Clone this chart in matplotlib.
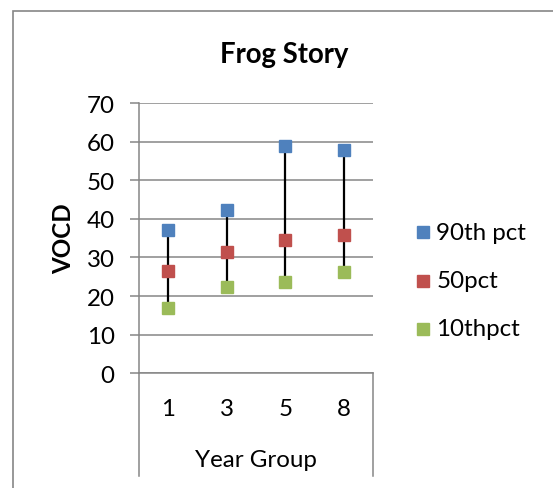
import matplotlib
matplotlib.use("Agg")
import matplotlib.pyplot as plt
from matplotlib.patches import Rectangle
from matplotlib.lines import Line2D

categories = ["1", "3", "5", "8"]
p90 = [37.0, 42.4, 58.9, 57.7]
p50 = [26.6, 31.3, 34.5, 35.8]
p10 = [16.8, 22.3, 23.6, 26.2]
series_names = ["90th pct", "50pct", "10thpct"]
colors = ["#4F81BD", "#C0504D", "#9BBB59"]
yticks = [0, 10, 20, 30, 40, 50, 60, 70]

plt.rcParams['font.family'] = ['Lato', 'DejaVu Sans']
W, H = 553, 489
fig = plt.figure(figsize=(W / 100, H / 100), dpi=100)

def fx(x): return x / W
def fy(y): return 1 - y / H

gray = "#868686"
FS = 17.4
# outer chart frame
fig.patches.append(Rectangle((fx(13), fy(600)), fx(700), fy(12) - fy(600),
                             transform=fig.transFigure, fill=False,
                             edgecolor=gray, linewidth=1.2))

left, right, top, bottom = 139.3, 372.7, 104, 374.3
ax = fig.add_axes([fx(left), fy(bottom), fx(right - left), fy(top) - fy(bottom)])
x = list(range(len(categories)))
ax.set_xlim(-0.5, len(categories) - 0.5)
ax.set_ylim(0, 70)
ax.set_yticks(yticks)
ax.yaxis.grid(True, color=gray, linewidth=1.1)
ax.set_axisbelow(True)
for s in ["top", "right"]:
    ax.spines[s].set_visible(False)
for s in ["left", "bottom"]:
    ax.spines[s].set_color(gray)
    ax.spines[s].set_linewidth(1.1)
ax.tick_params(axis="y", length=6.2, width=1.1, color=gray, pad=11.5,
               labelsize=FS, labelcolor="black")
ax.set_xticks([])
ax.tick_params(axis="x", length=0)

# high-low lines
ax.vlines(x, p10, p90, color="black", linewidth=1.6, zorder=2)
for vals, c, name in zip([p90, p50, p10], colors, series_names):
    ax.plot(x, vals, linestyle="none", marker="s", markersize=8.4,
            color=c, markeredgecolor=c, label=name, zorder=3)

# category labels
xt = ax.get_xaxis_transform()
for xi, lab in zip(x, categories):
    ax.text(xi, -(410 - bottom) / (bottom - top), lab, transform=xt,
            ha="center", va="center", fontsize=FS)
ax.text(0.5, -(461 - bottom) / (bottom - top), "Year Group", transform=ax.transAxes,
        ha="center", va="center", fontsize=FS)
# multi-level category boundary lines
depth = -(477 - bottom) / (bottom - top)
for xa in [0, 1]:
    ax.add_line(Line2D([xa, xa], [0, depth], transform=ax.transAxes,
                       color=gray, linewidth=1.1, clip_on=False))

fig.text(fx(64), fy(239), "VOCD", rotation=90, ha="center", va="center",
         fontsize=FS, fontweight="bold")
fig.text(fx(284), fy(55), "Frog Story", ha="center", va="center",
         fontsize=19.8, fontweight="bold")

# legend
leg_y = [233, 282, 330]
for name, c, yy in zip(series_names, colors, leg_y):
    sq = 11.5
    fig.patches.append(Rectangle((fx(417), fy(yy + sq / 2)), fx(sq), fy(yy - sq / 2) - fy(yy + sq / 2),
                                 transform=fig.transFigure, facecolor=c, edgecolor=c))
    fig.text(fx(436.5), fy(yy), name, ha="left", va="center", fontsize=FS)

fig.savefig("out.png", dpi=100)
